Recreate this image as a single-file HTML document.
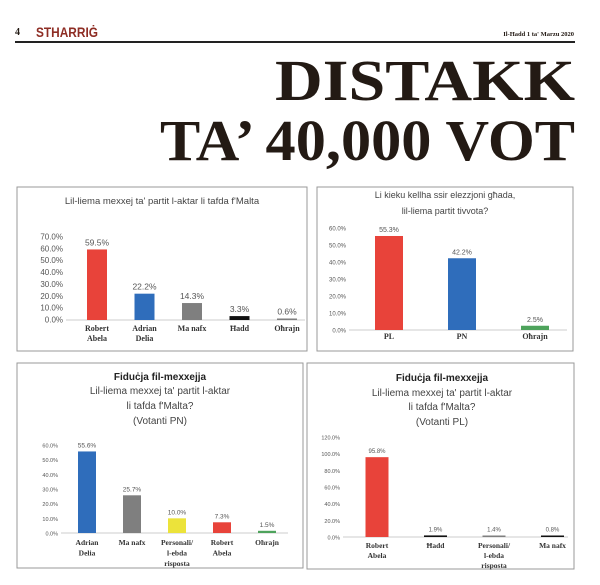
<!DOCTYPE html>
<html><head><meta charset="utf-8">
<style>
html,body{margin:0;padding:0;background:#fff;width:600px;height:585px;overflow:hidden}
svg{display:block}
.hd{font-family:"Liberation Serif",serif;font-weight:bold;fill:#231a14}
.t{font-family:"Liberation Sans",sans-serif;fill:#444}
.tk{font-family:"Liberation Sans",sans-serif;fill:#555}
.cat{font-family:"Liberation Serif",serif;font-weight:bold;fill:#333}
</style></head><body>
<svg id="page" width="600" height="585" viewBox="0 0 600 585">
<text x="15" y="35" class="hd" font-size="10">4</text>
<text x="36" y="37" font-family="Liberation Sans,sans-serif" font-weight="bold" font-size="14" fill="#8e2d24" textLength="62" lengthAdjust="spacingAndGlyphs">STHARRIĠ</text>
<text x="574" y="36" text-anchor="end" class="hd" font-size="6.5">Il-Ħadd 1 ta' Marzu 2020</text>
<rect x="15" y="41" width="560" height="2" fill="#222"/>
<text x="275" y="100" class="hd" font-size="58" textLength="300" lengthAdjust="spacingAndGlyphs">DISTAKK</text>
<text x="160" y="160" class="hd" font-size="58" textLength="415" lengthAdjust="spacingAndGlyphs">TA’ 40,000 VOT</text>

<rect x="17" y="187" width="290" height="164" fill="none" stroke="#999" stroke-width="1"/>
<rect x="317" y="187" width="256" height="164" fill="none" stroke="#999" stroke-width="1"/>
<rect x="17" y="363" width="286" height="205" fill="none" stroke="#999" stroke-width="1"/>
<rect x="307" y="363" width="267" height="206" fill="none" stroke="#999" stroke-width="1"/>

<text x="162" y="204" text-anchor="middle" class="t" font-size="9.5">Lil-liema mexxej ta' partit l-aktar li tafda f'Malta</text>
<text x="445" y="198" text-anchor="middle" class="t" font-size="9">Li kieku kellha ssir elezzjoni għada,</text>
<text x="445" y="214" text-anchor="middle" class="t" font-size="9">lil-liema partit tivvota?</text>

<text x="160" y="380" text-anchor="middle" font-family="Liberation Sans,sans-serif" font-weight="bold" font-size="10" fill="#222">Fiduċja fil-mexxejja</text>
<text x="160" y="394" text-anchor="middle" class="t" font-size="10">Lil-liema mexxej ta' partit l-aktar</text>
<text x="160" y="409" text-anchor="middle" class="t" font-size="10">li tafda f'Malta?</text>
<text x="160" y="424" text-anchor="middle" class="t" font-size="10">(Votanti PN)</text>

<text x="442" y="381" text-anchor="middle" font-family="Liberation Sans,sans-serif" font-weight="bold" font-size="10" fill="#222">Fiduċja fil-mexxejja</text>
<text x="442" y="396" text-anchor="middle" class="t" font-size="10">Lil-liema mexxej ta' partit l-aktar</text>
<text x="442" y="410" text-anchor="middle" class="t" font-size="10">li tafda f'Malta?</text>
<text x="442" y="425" text-anchor="middle" class="t" font-size="10">(Votanti PL)</text>
<g id="charts"></g>
</svg>
<script>
// Chart 1
const c1Categories = [["Robert","Abela"],["Adrian","Delia"],["Ma nafx"],["Ħadd"],["Oħrajn"]];
const c1Values = [59.5, 22.2, 14.3, 3.3, 0.6];
const c1Ticks = [0,10,20,30,40,50,60,70];
// Chart 2
const c2Categories = [["PL"],["PN"],["Oħrajn"]];
const c2Values = [55.3, 42.2, 2.5];
const c2Ticks = [0,10,20,30,40,50,60];
// Chart 3
const c3Categories = [["Adrian","Delia"],["Ma nafx"],["Personali/","l-ebda","risposta"],["Robert","Abela"],["Oħrajn"]];
const c3Values = [55.6, 25.7, 10.0, 7.3, 1.5];
const c3Ticks = [0,10,20,30,40,50,60];
// Chart 4
const c4Categories = [["Robert","Abela"],["Ħadd"],["Personali/","l-ebda","risposta"],["Ma nafx"]];
const c4Values = [95.8, 1.9, 1.4, 0.8];
const c4Ticks = [0,20,40,60,80,100,120];

const RED="#e8433a",BLUE="#2f6dbb",GRAY="#7f7f7f",BLK="#111",GRN="#4ea35c",YEL="#ece33a";
const NS="http://www.w3.org/2000/svg";
const root=document.getElementById('charts');
function el(tag,attrs,txt){const e=document.createElementNS(NS,tag);for(const k in attrs)e.setAttribute(k,attrs[k]);if(txt!==undefined)e.textContent=txt;root.appendChild(e);return e;}

function draw(id,cats,vals,ticks,cfg){
  const max=ticks[ticks.length-1];
  const y=v=>cfg.y0-(v/max)*(cfg.y0-cfg.yTop);
  const x=i=>cfg.x0+i*cfg.step;
  ticks.forEach(t=>{
    const lbl=el('text',{x:cfg.axX,y:y(t)+2.5,'text-anchor':'end',class:'tk','font-size':cfg.tf},t.toFixed(1)+'%');
    
    
  });
  const base=el('line',{x1:cfg.axX+3,x2:cfg.xEnd,y1:cfg.y0,y2:cfg.y0,stroke:'#ccc','stroke-width':1});
  
  
  vals.forEach((v,i)=>{
    const h=Math.max(cfg.y0-y(v),1.5);
    const b=el('rect',{x:x(i)-cfg.bw/2,y:cfg.y0-h,width:cfg.bw,height:h,fill:cfg.colors[i]});
    
    
    const vl=el('text',{x:x(i),y:cfg.y0-h-4,'text-anchor':'middle',class:'tk','font-size':cfg.vf},v.toFixed(1)+'%');
    
    
    cats[i].forEach((line,j)=>{
      const c=el('text',{x:x(i),y:cfg.y0+cfg.cy+j*cfg.lh,'text-anchor':'middle',class:'cat','font-size':cfg.cf},line);
      
      
    });
  });
}
draw('chart1',c1Categories,c1Values,c1Ticks,{y0:320,yTop:237,x0:97,step:47.5,bw:20,axX:63,xEnd:305,tf:8,vf:8.5,cf:8,cy:11,lh:10,colors:[RED,BLUE,GRAY,BLK,GRAY]});
draw('chart2',c2Categories,c2Values,c2Ticks,{y0:330,yTop:228,x0:389,step:73,bw:28,axX:346,xEnd:567,tf:6,vf:7,cf:8,cy:9,lh:10,colors:[RED,BLUE,GRN]});
draw('chart3',c3Categories,c3Values,c3Ticks,{y0:533,yTop:445,x0:87,step:45,bw:18,axX:58,xEnd:288,tf:5.5,vf:6.5,cf:7.5,cy:12,lh:10.5,colors:[BLUE,GRAY,YEL,RED,GRN]});
draw('chart4',c4Categories,c4Values,c4Ticks,{y0:537,yTop:437,x0:377,step:58.5,bw:23,axX:340,xEnd:568,tf:5.5,vf:6,cf:7.5,cy:11,lh:10,colors:[RED,BLK,GRAY,BLK]});
</script>
</body></html>
